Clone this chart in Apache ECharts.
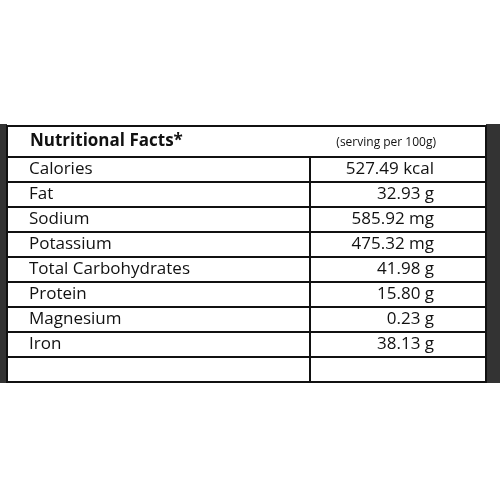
<!DOCTYPE html>
<html><head><meta charset="utf-8">
<script src="https://cdn.jsdelivr.net/npm/echarts@6/dist/echarts.min.js"></script>
<style>html,body{margin:0;background:#fff}#c{width:500px;height:500px}</style>
</head><body><div id="c"></div>
<script>
const title = 'Nutritional Facts*';
const unitNote = '(serving per 100g)';
const nutrients = ['Calories', 'Fat', 'Sodium', 'Potassium', 'Total Carbohydrates', 'Protein', 'Magnesium', 'Iron', ''];
const amounts = ['527.49 kcal', '32.93 g', '585.92 mg', '475.32 mg', '41.98 g', '15.80 g', '0.23 g', '38.13 g', ''];

const chart = echarts.init(document.getElementById('c'));
const top0 = 126, headH = 31, rowH = 25, left = 7, right = 486, divX = 310;
const bottom = top0 + headH + rowH * nutrients.length;
const font = '"Open Sans", "Noto Sans", sans-serif';
const els = [
  { type: 'rect', shape: { x: 0, y: top0 - 2, width: 7, height: bottom - top0 + 3 }, style: { fill: '#333' } },
  { type: 'rect', shape: { x: 486, y: top0 - 2, width: 14, height: bottom - top0 + 3 }, style: { fill: '#333' } },
  { type: 'rect', shape: { x: left, y: top0, width: right - left, height: bottom - top0 }, style: { fill: '#fff', stroke: '#111', lineWidth: 2 } },
  { type: 'text', x: 30, y: top0 + headH / 2, style: { text: title, font: 'bold 17px ' + font, fill: '#111', verticalAlign: 'middle' } },
  { type: 'text', x: 436, y: top0 + headH / 2 + 1, style: { text: unitNote, font: '12px ' + font, fill: '#111', align: 'right', verticalAlign: 'middle' } },
  { type: 'line', shape: { x1: divX, y1: top0 + headH, x2: divX, y2: bottom }, style: { stroke: '#111', lineWidth: 2 } }
];
nutrients.forEach((n, i) => {
  const y = top0 + headH + rowH * i;
  els.push({ type: 'line', shape: { x1: left, y1: y, x2: right, y2: y }, style: { stroke: '#111', lineWidth: 2 } });
  els.push({ type: 'text', x: 29, y: y + rowH / 2, style: { text: n, font: '17px ' + font, fill: '#111', verticalAlign: 'middle' } });
  els.push({ type: 'text', x: 434, y: y + rowH / 2, style: { text: amounts[i], font: '17px ' + font, fill: '#111', align: 'right', verticalAlign: 'middle' } });
});
chart.setOption({ backgroundColor: '#fff', graphic: { elements: els } });
</script></body></html>
